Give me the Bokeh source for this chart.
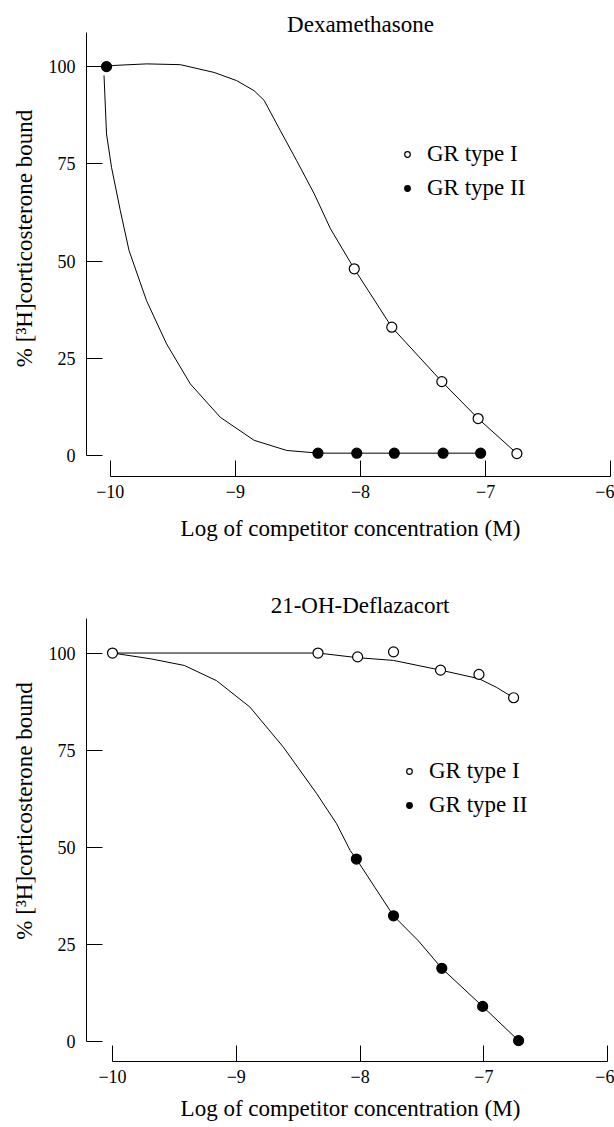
from bokeh.plotting import figure
from bokeh.models import Range1d, FixedTicker, Label, Legend, LegendItem
from bokeh.layouts import column
from bokeh.embed import file_html
from bokeh.resources import INLINE

FONT = "Liberation Serif"

# ---- axis ticks ----
x_ticks = [-10, -9, -8, -7, -6]
x_tick_labels = ["\u221210", "\u22129", "\u22128", "\u22127", "\u22126"]
y_ticks = [0, 25, 50, 75, 100]
y_tick_labels = ["0", "25", "50", "75", "100"]

x_label = "Log of competitor concentration (M)"
y_label = "% [\u00b3H]corticosterone bound"
series_names = ["GR type I", "GR type II"]

# ---- Panel A: Dexamethasone ----
dex_title = "Dexamethasone"
dex_t1_x = [-8.05, -7.75, -7.35, -7.06, -6.75]
dex_t1_y = [48, 33, 19, 9.5, 0.5]
dex_t2_x = [-10.03, -8.34, -8.03, -7.73, -7.34, -7.04]
dex_t2_y = [100, 0.6, 0.6, 0.6, 0.6, 0.6]
# fitted curves
dex_c1_x = [-10.03, -9.97, -9.71, -9.44, -9.17, -8.99, -8.85, -8.77, -8.64, -8.51, -8.37, -8.24,
            -8.05, -7.75, -7.35, -7.06, -6.75]
dex_c1_y = [100, 100.3, 100.7, 100.5, 98.5, 96.4, 93.8, 91.3, 83.5, 75.8, 67.3, 58.3,
            48, 33, 19, 9.5, 0.5]
dex_c2_x = [-10.05, -10.03, -9.99, -9.92, -9.85, -9.71, -9.55, -9.36, -9.12, -8.85, -8.59, -8.37,
            -8.34, -8.03, -7.73, -7.34, -7.04]
dex_c2_y = [97.7, 82.7, 74.1, 63, 52.7, 39.8, 28.7, 18.4, 9.8, 3.9, 1.3, 0.7,
            0.6, 0.6, 0.6, 0.6, 0.6]

# ---- Panel B: 21-OH-Deflazacort ----
def_title = "21-OH-Deflazacort"
def_t1_x = [-10.0, -8.34, -8.02, -7.73, -7.35, -7.04, -6.76]
def_t1_y = [100, 100, 99, 100.3, 95.6, 94.5, 88.5]
def_t2_x = [-8.03, -7.73, -7.34, -7.01, -6.72]
def_t2_y = [47, 32.4, 18.9, 9.1, 0.3]
def_c1_x = [-10.0, -8.34, -8.02, -7.73, -7.35, -7.04, -6.9, -6.76]
def_c1_y = [100, 100, 98.8, 98.1, 95.6, 93.4, 91.2, 88.5]
def_c2_x = [-10.0, -9.69, -9.42, -9.16, -8.89, -8.62, -8.35, -8.19, -8.08, -8.03,
            -7.88, -7.73, -7.53, -7.34, -7.01, -6.72]
def_c2_y = [100, 98.5, 96.8, 92.9, 86.1, 75.8, 63.8, 56.1, 49.2, 47,
            39.7, 32.4, 26, 18.9, 9.1, 0.3]


def make_panel(title, height, xr, yr, y_top_axis, b_left, b_bottom, title_y,
               c1x, c1y, c2x, c2y, p1x, p1y, p2x, p2y, leg_loc, lab_standoff):
    p = figure(width=614, height=height, output_backend="svg", toolbar_location=None,
               x_range=Range1d(*xr), y_range=Range1d(*yr),
               min_border_left=b_left, min_border_right=0,
               min_border_top=0, min_border_bottom=b_bottom,
               background_fill_color="white", border_fill_color="white")
    p.outline_line_color = None
    p.grid.visible = False

    # curves
    p.line(c1x, c1y, line_color="black", line_width=1)
    p.line(c2x, c2y, line_color="black", line_width=1)
    r1 = p.scatter(p1x, p1y, marker="circle", size=10, fill_color="white",
                   line_color="black", line_width=1.2)
    r2 = p.scatter(p2x, p2y, marker="circle", size=10, fill_color="black",
                   line_color="black", line_width=1.2)

    for ax in (p.xaxis[0], p.yaxis[0]):
        ax.axis_line_color = "black"
        ax.axis_line_width = 1
        ax.major_tick_line_color = "black"
        ax.minor_tick_line_color = None
        ax.major_tick_out = 0
        ax.major_tick_in = 16
        ax.major_label_text_font = FONT
        ax.major_label_text_font_size = "18px"
        ax.major_label_text_color = "black"
        ax.axis_label_text_font = FONT
        ax.axis_label_text_font_size = "23px"
        ax.axis_label_text_font_style = "normal"
        ax.axis_label_text_color = "black"

    xa = p.xaxis[0]
    xa.ticker = FixedTicker(ticks=x_ticks)
    xa.major_label_overrides = {t: l for t, l in zip(x_ticks, x_tick_labels)}
    xa.bounds = (x_ticks[0], x_ticks[-1])
    xa.axis_label = x_label
    xa.major_label_standoff = 8
    xa.axis_label_standoff = lab_standoff

    ya = p.yaxis[0]
    ya.ticker = FixedTicker(ticks=y_ticks)
    ya.major_label_overrides = {t: l for t, l in zip(y_ticks, y_tick_labels)}
    ya.bounds = (0, y_top_axis)
    ya.axis_label = y_label
    ya.major_label_standoff = 11
    ya.axis_label_standoff = 9

    p.add_layout(Label(x=(x_ticks[0] + x_ticks[-1]) / 2, y=title_y, text=title,
                       text_align="center", text_baseline="middle",
                       text_font=FONT, text_font_size="23px", text_color="black"))

    leg = Legend(items=[LegendItem(label=series_names[0], renderers=[r1]),
                        LegendItem(label=series_names[1], renderers=[r2])],
                 location=leg_loc, orientation="vertical",
                 glyph_width=14, glyph_height=26, label_height=26,
                 label_standoff=13, spacing=8, padding=0, margin=0,
                 border_line_alpha=0, background_fill_alpha=0,
                 label_text_font=FONT, label_text_font_size="23px",
                 label_text_color="black")
    p.add_layout(leg, "center")
    return p


p1 = make_panel(dex_title, 560, (-10.19, -5.97), (-5.4, 117.0), 108.7, 86, 84, 110.8,
                dex_c1_x, dex_c1_y, dex_c2_x, dex_c2_y,
                dex_t1_x, dex_t1_y, dex_t2_x, dex_t2_y, (314, 275), 15)
p2 = make_panel(def_title, 567, (-10.21, -5.945), (-5.07, 123.8), 108.9, 82, 66, 112.3,
                def_c1_x, def_c1_y, def_c2_x, def_c2_y,
                def_t1_x, def_t1_y, def_t2_x, def_t2_y, (316, 243), 10)

layout = column(p1, p2, spacing=0)

with open("out.html", "w") as f:
    f.write(file_html(layout, INLINE))
